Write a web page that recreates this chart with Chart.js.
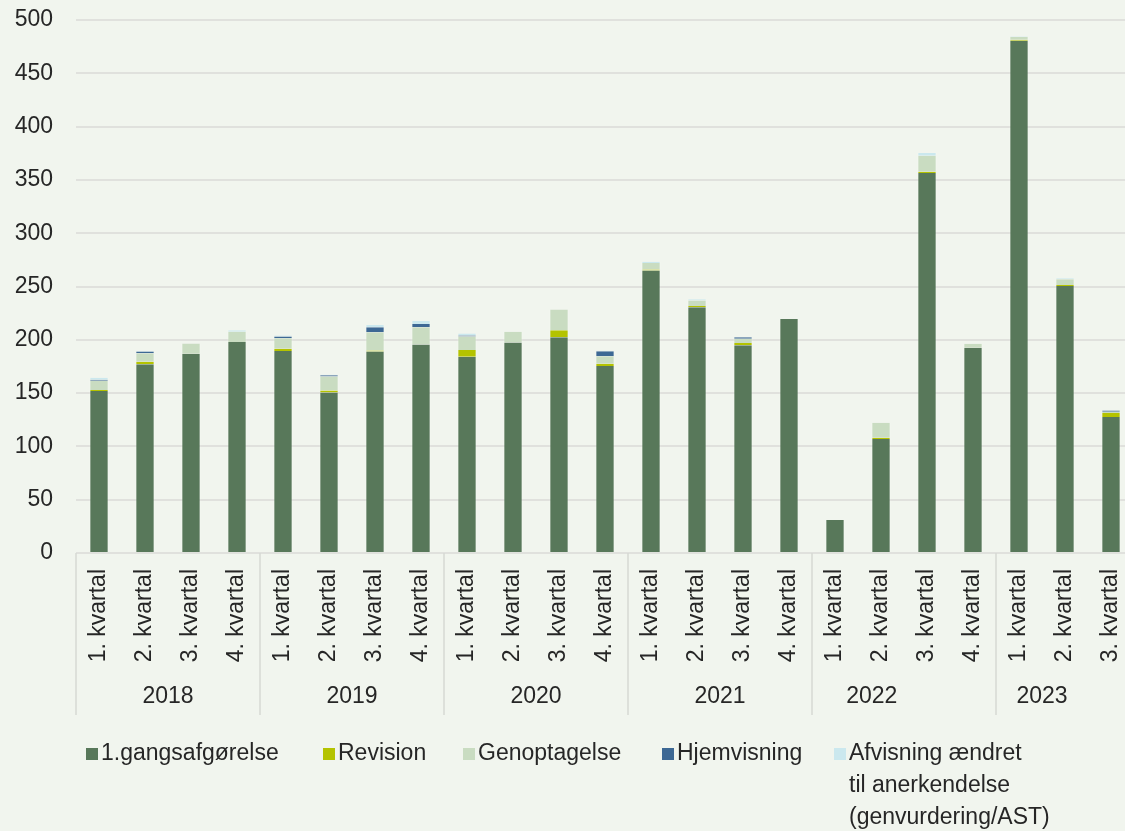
<!DOCTYPE html>
<html><head><meta charset="utf-8">
<script src="https://cdn.jsdelivr.net/npm/chart.js@4.4.1/dist/chart.umd.min.js"></script>
<style>
html,body{margin:0;padding:0;overflow:hidden;background:#f1f5ee;}
#wrap{position:relative;width:1134px;height:831px;}
</style>
</head><body>
<div id="wrap"><canvas id="c"></canvas></div>
<script>
// ---- data ----
const quarterLabels = [
  '1. kvartal','2. kvartal','3. kvartal','4. kvartal',
  '1. kvartal','2. kvartal','3. kvartal','4. kvartal',
  '1. kvartal','2. kvartal','3. kvartal','4. kvartal',
  '1. kvartal','2. kvartal','3. kvartal','4. kvartal',
  '1. kvartal','2. kvartal','3. kvartal','4. kvartal',
  '1. kvartal','2. kvartal','3. kvartal'
];
const years = ['2018','2019','2020','2021','2022','2023'];
const quartersPerYear = 4;

const foersteGang   = [152, 177, 187, 198, 189.5, 150.5, 189, 195.5, 184, 197.5, 202.5, 175.5, 265, 230.5, 195, 219.5, 31, 107, 356.5, 192.5, 480.5, 250.5, 127.5];
const revision      = [1, 2.5, 0, 0, 2, 2, 1, 0, 6.5, 0, 6.5, 2, 1, 1.3, 2, 0, 0, 1.2, 1.2, 0, 1, 1, 3.8];
const genoptagelse  = [8.5, 8, 9.5, 9.5, 10, 13, 17, 16.3, 12.5, 10, 19.5, 7, 6, 5, 4, 0, 0, 14, 15, 3.8, 2.5, 5.3, 1.2];
const hjemvisning   = [1, 1.5, 0, 0, 1.5, 1.3, 4.7, 3, 1, 0, 0, 4.7, 0, 0, 1.3, 0, 0, 0, 0, 0, 0, 0, 1.2];
const afvisning     = [2, 0.5, 0, 1.5, 1, 0.5, 2.2, 2.8, 2, 0, 0, 0.6, 1.3, 1.3, 0.3, 0, 0, 0, 2.5, 0, 0.6, 1, 0];

const seriesNames = ['1.gangsafgørelse','Revision','Genoptagelse','Hjemvisning','Afvisning ændret til anerkendelse (genvurdering/AST)'];
const legendLines = [['1.gangsafgørelse'],['Revision'],['Genoptagelse'],['Hjemvisning'],['Afvisning ændret','til anerkendelse','(genvurdering/AST)']];
const yMin = 0, yMax = 500, yStep = 50;

// ---- layout / styles ----
// year-label centre, in category slots counted from the left edge of the axis
const yearLabelSlot = [2, 6, 10, 14, 17.3, 21];
const BG = '#f1f5ee';
const TEXT = '#262626';
const GRID = '#e0e1dd';
const SEP = '#d6d8d3';
const COLORS = ['#58785a','#b4c300','#c9dcc1','#3d6894','#cbe8ee'];
const FONT = 'Liberation Sans';
const FS = 23;

Chart.defaults.font.family = FONT;
Chart.defaults.font.size = FS;
Chart.defaults.color = TEXT;

const seriesData = [foersteGang, revision, genoptagelse, hjemvisning, afvisning];

const extras = {
  id: 'extras',
  beforeDraw(chart) {
    const {ctx, width, height} = chart;
    ctx.save();
    ctx.fillStyle = BG;
    ctx.fillRect(0, 0, width, height);
    ctx.restore();
  },
  afterDraw(chart) {
    const ctx = chart.ctx, xs = chart.scales.x, area = chart.chartArea;
    const slot = xs.getPixelForValue(1) - xs.getPixelForValue(0);
    const origin = xs.getPixelForValue(0) - slot / 2;
    ctx.save();
    ctx.strokeStyle = SEP;
    ctx.lineWidth = 1.5;
    ctx.font = FS + 'px "' + FONT + '"';
    ctx.fillStyle = TEXT;
    ctx.textAlign = 'center';
    ctx.textBaseline = 'middle';
    years.forEach((yr, i) => {
      const left = xs.getPixelForValue(i * quartersPerYear) - slot / 2;
      ctx.beginPath();
      ctx.moveTo(left, area.bottom);
      ctx.lineTo(left, area.bottom + 162);
      ctx.stroke();
      ctx.fillText(yr, origin + yearLabelSlot[i] * slot, area.bottom + 144);
    });
    // legend
    const xs0 = [86, 323, 463, 662, 834];
    const cy = 754, box = 12, lh = 32;
    ctx.textAlign = 'left';
    chart.data.datasets.forEach((ds, i) => {
      const x = xs0[i];
      ctx.fillStyle = ds.backgroundColor;
      ctx.fillRect(x, cy - box / 2, box, box);
      ctx.fillStyle = TEXT;
      legendLines[i].forEach((ln, j) => ctx.fillText(ln, x + box + 3, cy + j * lh));
    });
    ctx.restore();
  }
};

new Chart(document.getElementById('c'), {
  type: 'bar',
  data: {
    labels: quarterLabels,
    datasets: seriesData.map((d, i) => ({
      label: seriesNames[i],
      data: d,
      backgroundColor: COLORS[i],
      borderColor: 'rgba(255,255,255,0.25)',
      borderWidth: {left: 1, right: 1, top: 0, bottom: 0},
      barPercentage: 0.42,
      categoryPercentage: 1.0
    }))
  },
  options: {
    responsive: true,
    maintainAspectRatio: false,
    animation: false,
    layout: {padding: {top: 20, right: 0, bottom: 0, left: 0}},
    plugins: {legend: {display: false}, tooltip: {enabled: false}},
    scales: {
      x: {
        stacked: true,
        grid: {display: false, drawTicks: false},
        border: {display: false},
        ticks: {minRotation: 90, maxRotation: 90, autoSkip: false, padding: 16, color: TEXT, font: {size: FS}},
        afterFit(scale) { scale.height = 278; scale.paddingLeft = 0; scale.paddingRight = 0; }
      },
      y: {
        stacked: true,
        min: yMin, max: yMax,
        grid: {color: GRID, lineWidth: 2, drawTicks: false},
        border: {display: false},
        ticks: {stepSize: yStep, padding: 23, color: TEXT, font: {size: FS}},
        afterFit(scale) { scale.width = 76; scale.paddingTop = 0; scale.paddingBottom = 0; }
      }
    }
  },
  plugins: [extras]
});
</script>
</body></html>
